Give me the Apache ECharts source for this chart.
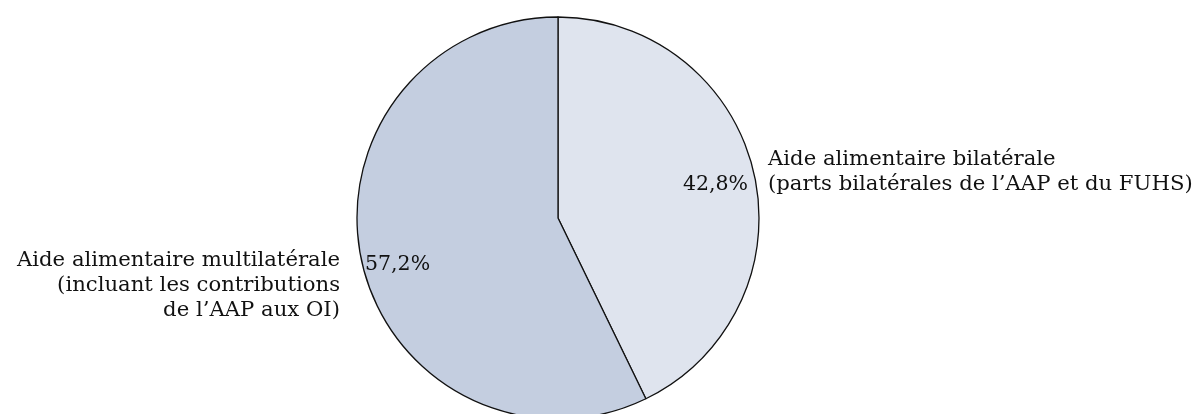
<!DOCTYPE html>
<html><head><meta charset="utf-8">
<script src="https://cdn.jsdelivr.net/npm/echarts@6/dist/echarts.min.js"></script>
<style>html,body{margin:0;padding:0;background:#fff}#c{width:1203px;height:414px}</style>
</head><body><div id="c"></div>
<script>
const categories = ["Aide alimentaire bilatérale\n(parts bilatérales de l’AAP et du FUHS)", "Aide alimentaire multilatérale\n(incluant les contributions\nde l’AAP aux OI)"];
const values = [42.8, 57.2];
const colors = ['#dfe4ee', '#c4cee0'];

const chart = echarts.init(document.getElementById('c'));
const data = categories.map((n, i) => ({name: n, value: values[i], itemStyle: {color: colors[i]}}));
const font = {fontFamily: 'DejaVu Serif', fontSize: 20.5, color: '#111', lineHeight: 25, overflow: 'none'};
const outerPos = [{x: 768, y: 172, align: 'left'}, {x: 340, y: 285, align: 'right'}];
const pctPos = [{x: 748, y: 185, align: 'right'}, {x: 365, y: 265, align: 'left'}];
chart.setOption({
  animation: false,
  series: [{
    type: 'pie', center: [558, 218], radius: 201, startAngle: 90, clockwise: true,
    data: data,
    itemStyle: {borderColor: '#111', borderWidth: 1.3},
    label: Object.assign({show: true, formatter: p => p.name, position: 'inside'}, font, {fontSize: 21.2}),
    labelLine: {show: false},
    labelLayout: p => Object.assign({verticalAlign: 'middle'}, outerPos[p.dataIndex]),
    emphasis: {disabled: true}
  }, {
    type: 'pie', center: [558, 218], radius: 201, startAngle: 90, clockwise: true, silent: true,
    data: data.map(d => ({name: d.name, value: d.value, itemStyle: {color: 'transparent', borderWidth: 0}})),
    label: Object.assign({show: true, formatter: p => String(p.value).replace('.', ',') + '%', position: 'inside'}, font),
    labelLine: {show: false},
    labelLayout: p => Object.assign({verticalAlign: 'middle'}, pctPos[p.dataIndex]),
    emphasis: {disabled: true}
  }]
});
</script></body></html>
